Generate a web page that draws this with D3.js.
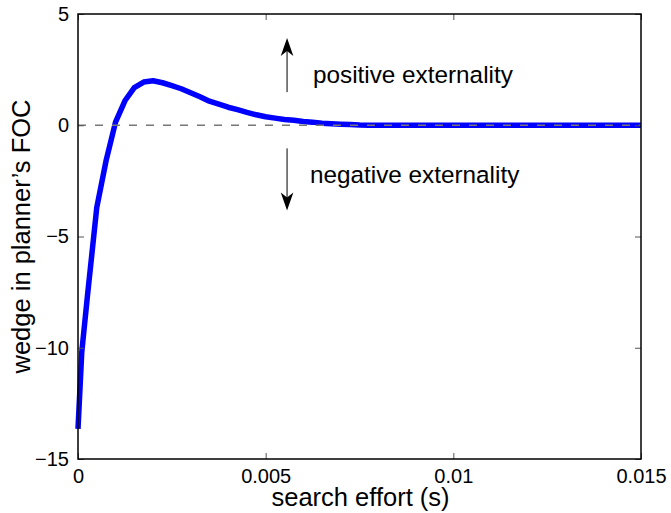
<!DOCTYPE html>
<html><head><meta charset="utf-8">
<script src="https://cdn.jsdelivr.net/npm/d3@7"></script>
<style>body{margin:0;background:#fff}svg{display:block}text{font-family:"Liberation Sans",Arial,sans-serif}</style>
</head><body><div id="chart"></div>
<script>
// Data
const searchEffort = [0, 0.0001, 0.00025, 0.0005, 0.00075, 0.001, 0.00125, 0.0015, 0.00175, 0.002,
  0.00225, 0.0025, 0.00275, 0.003, 0.00325, 0.0035, 0.00375, 0.004, 0.00425, 0.0045,
  0.00475, 0.005, 0.00525, 0.0055, 0.00575, 0.006, 0.00625, 0.0065, 0.00675, 0.007,
  0.00725, 0.0075, 0.00775, 0.008, 0.009, 0.01, 0.011, 0.012, 0.013, 0.014, 0.015];
const wedge = [-13.65, -10.2, -7.7, -3.7, -1.58, 0.14, 1.1, 1.69, 1.94, 2.0,
  1.91, 1.78, 1.64, 1.46, 1.28, 1.08, 0.95, 0.81, 0.70, 0.58,
  0.47, 0.38, 0.32, 0.26, 0.22, 0.17, 0.14, 0.09, 0.07, 0.05,
  0.03, 0.01, 0, 0, 0, 0, 0, 0, 0, 0, 0];
const xTicks = [0, 0.005, 0.01, 0.015];
const xTickLabels = ["0", "0.005", "0.01", "0.015"];
const yTicks = [-15, -10, -5, 0, 5];
const yTickLabels = ["\u221215", "\u221210", "\u22125", "0", "5"];
const xLabel = "search effort (s)";
const yLabel = "wedge in planner\u2019s FOC";
const annotations = [
  {text: "positive externality", x: 0.00626, y: 1.89, from: 1.49, to: 3.92},
  {text: "negative externality", x: 0.00618, y: -2.61, from: -1.04, to: -3.83}
];
const arrowX = 0.00557;

const W = 671, H = 513;
const m = {left: 78, right: 30, top: 14, bottom: 54};
const svg = d3.select("#chart").append("svg").attr("width", W).attr("height", H);
const x = d3.scaleLinear().domain([0, 0.015]).range([m.left, W - m.right]);
const y = d3.scaleLinear().domain([-15, 5]).range([H - m.bottom, m.top]);

// curve
const pts = searchEffort.map((s, i) => [s, wedge[i]]);
svg.append("path").datum(pts)
  .attr("fill", "none").attr("stroke", "#0000ff").attr("stroke-width", 5.5)
  .attr("stroke-linejoin", "round")
  .attr("d", d3.line().x(d => x(d[0])).y(d => y(d[1])));

// zero dashed line
svg.append("line")
  .attr("x1", x(0)).attr("x2", x(0.015)).attr("y1", y(0)).attr("y2", y(0))
  .attr("stroke", "#777").attr("stroke-width", 1.5).attr("stroke-dasharray", "8,9");

// axes
const tickLen = 6;
const gx = svg.append("g").attr("transform", `translate(0,${y(-15)})`)
  .call(d3.axisBottom(x).tickValues(xTicks).tickFormat((d, i) => xTickLabels[i]).tickSizeInner(-tickLen).tickSizeOuter(0).tickPadding(10));
const gxt = svg.append("g").attr("transform", `translate(0,${y(5)})`)
  .call(d3.axisTop(x).tickValues(xTicks).tickFormat("").tickSizeInner(-tickLen).tickSizeOuter(0));
const gy = svg.append("g").attr("transform", `translate(${x(0)},0)`)
  .call(d3.axisLeft(y).tickValues(yTicks).tickFormat((d, i) => yTickLabels[i]).tickSizeInner(-tickLen).tickSizeOuter(0).tickPadding(9));
const gyr = svg.append("g").attr("transform", `translate(${x(0.015)},0)`)
  .call(d3.axisRight(y).tickValues(yTicks).tickFormat("").tickSizeInner(-tickLen).tickSizeOuter(0));
[gx, gxt, gy, gyr].forEach(g => {
  g.select(".domain").remove();
  g.selectAll(".tick line").attr("stroke", "#555").attr("stroke-width", 1);
  g.selectAll("text").attr("font-size", 20).attr("fill", "#000").attr("font-family", '"Liberation Sans", Arial, sans-serif');
});
gx.selectAll("text").attr("dy", "0.71em");

// box
svg.append("rect").attr("x", x(0)).attr("y", y(5))
  .attr("width", x(0.015) - x(0)).attr("height", y(-15) - y(5))
  .attr("fill", "none").attr("stroke", "#000").attr("stroke-width", 1.5);

// axis labels
svg.append("text").attr("x", (x(0) + x(0.015)) / 2 + 1).attr("y", 506)
  .attr("text-anchor", "middle").attr("font-size", 25.5).text(xLabel);
svg.append("text").attr("transform", `translate(30,${(y(5) + y(-15)) / 2}) rotate(-90)`)
  .attr("text-anchor", "middle").attr("font-size", 25.5).text(yLabel);

// annotations
annotations.forEach(a => {
  svg.append("text").attr("x", x(a.x)).attr("y", y(a.y)).attr("font-size", 24.3).text(a.text);
  const x0 = x(arrowX), y0 = y(a.from), y1 = y(a.to);
  const dir = y1 < y0 ? 1 : -1; // 1 = up
  svg.append("line").attr("x1", x0).attr("x2", x0).attr("y1", y0).attr("y2", y1 + dir * 10)
    .attr("stroke", "#000").attr("stroke-width", 1);
  const L = 18, hw = 6.3, back = 13;
  svg.append("path")
    .attr("d", `M${x0},${y1} L${x0 - hw},${y1 + dir * L} L${x0},${y1 + dir * back} L${x0 + hw},${y1 + dir * L} Z`)
    .attr("fill", "#000");
});
</script></body></html>
